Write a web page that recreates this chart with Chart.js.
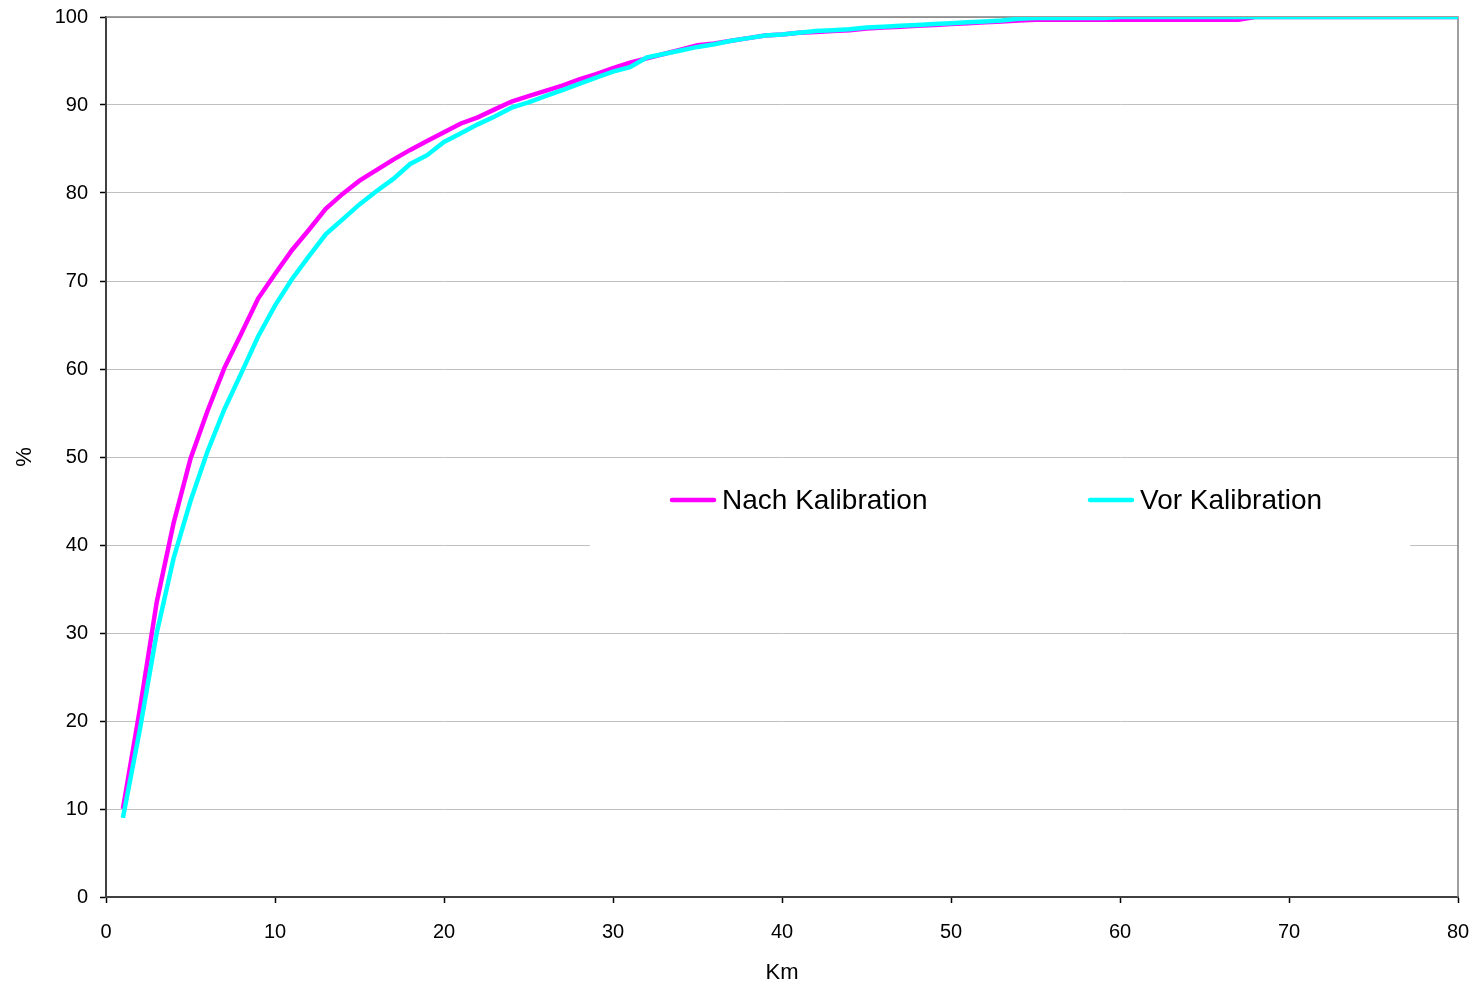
<!DOCTYPE html>
<html lang="de">
<head>
<meta charset="UTF-8">
<title>Kalibration</title>
<script src="https://cdn.jsdelivr.net/npm/chart.js"></script>
<style>
  html, body { margin: 0; padding: 0; background: #fff; }
</style>
</head>
<body>
<canvas id="kurve" width="1479" height="987"></canvas>

<script>
// Distanz in km
var km = [1, 2, 3, 4, 5, 6, 7, 8, 9, 10,
          11, 12, 13, 14, 15, 16, 17, 18, 19, 20,
          21, 22, 23, 24, 25, 26, 27, 28, 29, 30,
          31, 32, 33, 34, 35, 36, 37, 38, 39, 40,
          41, 42, 43, 44, 45, 46, 47, 48, 49, 50,
          51, 52, 53, 54, 55, 56, 57, 58, 59, 60,
          61, 62, 63, 64, 65, 66, 67, 68, 69, 70,
          71, 72, 73, 74, 75, 76, 77, 78, 79, 80]

// kumulierter Anteil in %
var nachKalibration = [10, 21.3, 33.5, 42.5, 49.8, 55.2, 60.1, 64.0, 68.0, 70.8,
                       73.5, 75.8, 78.2, 79.9, 81.4, 82.6, 83.8, 84.9, 85.9, 86.9,
                       87.9, 88.6, 89.5, 90.4, 91.0, 91.6, 92.2, 92.9, 93.5, 94.2,
                       94.8, 95.3, 95.8, 96.3, 96.8, 97.0, 97.3, 97.6, 97.9, 98.0,
                       98.2, 98.3, 98.4, 98.5, 98.7, 98.8, 98.9, 99.0, 99.1, 99.2,
                       99.3, 99.4, 99.5, 99.6, 99.7, 99.7, 99.7, 99.7, 99.7, 99.7,
                       99.7, 99.7, 99.7, 99.7, 99.7, 99.7, 99.7, 100, 100, 100,
                       100, 100, 100, 100, 100, 100, 100, 100, 100, 100]

var vorKalibration = [9, 19, 30, 38.5, 45, 50.6, 55.4, 59.5, 63.7, 67.2,
                      70.2, 72.8, 75.3, 77.0, 78.7, 80.2, 81.6, 83.3, 84.3, 85.8,
                      86.8, 87.8, 88.7, 89.7, 90.3, 91.0, 91.7, 92.4, 93.1, 93.8,
                      94.3, 95.4, 95.8, 96.2, 96.6, 96.9, 97.3, 97.6, 97.9, 98.0,
                      98.2, 98.4, 98.5, 98.6, 98.8, 98.9, 99.0, 99.1, 99.2, 99.3,
                      99.4, 99.5, 99.6, 99.8, 99.9, 99.9, 99.9, 99.9, 99.9, 100,
                      100, 100, 100, 100, 100, 100, 100, 100, 100, 100,
                      100, 100, 100, 100, 100, 100, 100, 100, 100, 100]

var xTicks = [0, 10, 20, 30, 40, 50, 60, 70, 80]
var yTicks = [0, 10, 20, 30, 40, 50, 60, 70, 80, 90, 100]

function punkte(werte) {
    return km.map(function (k, i) { return { x: k, y: werte[i] } })
}

Chart.defaults.font.family = '"Liberation Sans", Arial, sans-serif'
Chart.defaults.color = '#000'

// Rahmen oben/rechts und Legende mitten im Diagramm
var rahmenUndLegende = {
    id: 'rahmenUndLegende',
    beforeDatasetsDraw: function (chart) {
        var ctx = chart.ctx, a = chart.chartArea
        ctx.save()
        ctx.strokeStyle = '#808080'
        ctx.lineWidth = 1.5
        ctx.beginPath()
        ctx.moveTo(a.left, a.top)
        ctx.lineTo(a.right, a.top)
        ctx.lineTo(a.right, a.bottom)
        ctx.stroke()
        ctx.restore()
    },
    afterDraw: function (chart) {
        var ctx = chart.ctx, a = chart.chartArea
        var boxL = a.left + 484, boxR = a.left + 1304
        var boxT = a.top + 441, boxB = a.top + 529
        var mitte = a.top + 483
        ctx.save()
        ctx.fillStyle = '#fff'
        ctx.fillRect(boxL, boxT, boxR - boxL, boxB - boxT)
        var startX = [a.left + 566, a.left + 984]
        chart.data.datasets.forEach(function (ds, i) {
            var x = startX[i]
            ctx.strokeStyle = ds.borderColor
            ctx.lineWidth = 4.5
            ctx.lineCap = 'round'
            ctx.beginPath()
            ctx.moveTo(x, mitte)
            ctx.lineTo(x + 42, mitte)
            ctx.stroke()
            ctx.fillStyle = '#000'
            ctx.font = '28px "Liberation Sans", Arial, sans-serif'
            ctx.textBaseline = 'middle'
            ctx.textAlign = 'left'
            ctx.fillText(ds.label, x + 50, mitte + 1)
        })
        ctx.restore()
    }
}

var ctx = document.getElementById('kurve').getContext('2d')
var kurve = new Chart(ctx, {
    type: 'line',
    data: {
        datasets: [{
            label: 'Nach Kalibration',
            data: punkte(nachKalibration),
            borderColor: '#ff00ff',
            borderWidth: 4.5,
            pointRadius: 0,
            tension: 0,
            order: 1
        }, {
            label: 'Vor Kalibration',
            data: punkte(vorKalibration),
            borderColor: '#00ffff',
            borderWidth: 4.5,
            pointRadius: 0,
            tension: 0,
            order: 0
        }]
    },
    options: {
        responsive: false,
        animation: false,
        devicePixelRatio: 1,
        layout: { padding: { top: 17, right: 21, left: 0, bottom: 0 } },
        plugins: {
            legend: { display: false },
            tooltip: { enabled: false }
        },
        scales: {
            x: {
                type: 'linear',
                min: 0,
                max: 80,
                afterBuildTicks: function (s) { s.ticks = xTicks.map(function (v) { return { value: v } }) },
                afterFit: function (s) {
                    s.height = 90
                    s.paddingLeft = 0
                    s.paddingRight = 0
                },
                ticks: { font: { size: 20 }, padding: 17, maxRotation: 0 },
                grid: { drawOnChartArea: false, tickLength: 6, tickColor: '#000', tickWidth: 1.5 },
                border: { color: '#404040', width: 2 },
                title: { display: true, text: 'Km', font: { size: 22 }, padding: { top: 0, bottom: 1 } }
            },
            y: {
                min: 0,
                max: 100,
                afterBuildTicks: function (s) { s.ticks = yTicks.map(function (v) { return { value: v } }) },
                afterFit: function (s) {
                    s.width = 106
                    s.paddingTop = 0
                    s.paddingBottom = 0
                },
                ticks: { font: { size: 20 }, padding: 12 },
                grid: { color: '#c0c0c0', lineWidth: 1, tickLength: 6, tickColor: '#000', tickWidth: 1.5 },
                border: { color: '#404040', width: 2 },
                title: { display: true, text: '%', font: { size: 22 }, padding: { top: 12, bottom: 0 } }
            }
        }
    },
    plugins: [rahmenUndLegende]
})
</script>
</body>
</html>
